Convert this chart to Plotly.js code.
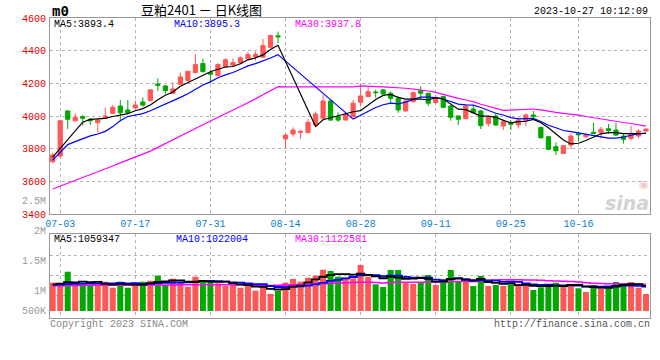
<!DOCTYPE html>
<html><head><meta charset="utf-8">
<script src="https://cdn.plot.ly/plotly-3.0.1.min.js"></script>
<style>html,body{margin:0;padding:0;background:#fff}</style>
</head><body>
<div id="chart" style="width:660px;height:360px"></div>
<script>
const dates = ['2023-06-30',
 '2023-07-03','2023-07-04','2023-07-05','2023-07-06','2023-07-07','2023-07-10','2023-07-11','2023-07-12','2023-07-13','2023-07-14',
 '2023-07-17','2023-07-18','2023-07-19','2023-07-20','2023-07-21','2023-07-24','2023-07-25','2023-07-26','2023-07-27','2023-07-28','2023-07-31',
 '2023-08-01','2023-08-02','2023-08-03','2023-08-04','2023-08-07','2023-08-08','2023-08-09','2023-08-10','2023-08-11',
 '2023-08-14','2023-08-15','2023-08-16','2023-08-17','2023-08-18','2023-08-21','2023-08-22','2023-08-23','2023-08-24','2023-08-25',
 '2023-08-28','2023-08-29','2023-08-30','2023-08-31','2023-09-01','2023-09-04','2023-09-05','2023-09-06','2023-09-07','2023-09-08',
 '2023-09-11','2023-09-12','2023-09-13','2023-09-14','2023-09-15','2023-09-18','2023-09-19','2023-09-20','2023-09-21','2023-09-22',
 '2023-09-25','2023-09-26','2023-09-27','2023-09-28','2023-10-09','2023-10-10','2023-10-11','2023-10-12','2023-10-13',
 '2023-10-16','2023-10-17','2023-10-18','2023-10-19','2023-10-20','2023-10-23','2023-10-24','2023-10-25','2023-10-26','2023-10-27'];

const open = [3720,3755,4031,3971,3996,3980,3959,3988,4016,4061,
 4037,4049,4086,4094,4196,4184,4139,4194,4217,4266,
 4321,4266,4247,4299,4311,4325,4350,4364,4360,4421,
 4491,3859,3890,3900,3898,3945,3986,4092,3996,3975,
 3996,4084,4119,4147,4160,4139,4108,4031,4088,4155,
 4139,4082,4119,4061,4000,3984,4043,4031,3953,4000,
 3939,3959,3945,3971,4006,3930,3873,3812,3771,3822,
 3892,3873,3900,3898,3922,3914,3877,3863,3877,3908];
const high = [3775,3975,4035,4016,4006,3988,3980,4049,4067,4098,
 4098,4094,4115,4160,4231,4190,4207,4266,4274,4380,
 4350,4282,4323,4354,4352,4364,4391,4395,4472,4497,
 4517,3890,3930,3914,3982,4027,4129,4098,4022,4016,
 4098,4200,4180,4160,4166,4151,4119,4098,4153,4180,
 4143,4129,4125,4067,4006,4074,4061,4037,4000,4016,
 3980,3975,3992,4016,4031,3935,3877,3838,3822,3894,
 3904,3894,3959,3935,3951,3959,3890,3941,3920,3924];
const low = [3710,3744,3920,3965,3941,3945,3898,3984,4012,3971,
 4012,4045,4057,4088,4153,4135,4135,4190,4211,4260,
 4266,4200,4245,4294,4299,4319,4344,4339,4354,4415,
 4446,3802,3873,3859,3898,3935,3980,3971,3965,3975,
 3992,4057,4112,4112,4133,4078,4020,4027,4082,4108,
 4061,4074,4047,3971,3945,3980,4016,3920,3935,3939,
 3914,3914,3924,3939,3980,3859,3791,3761,3767,3798,
 3843,3867,3890,3863,3890,3877,3832,3849,3863,3904];
const close = [3761,3971,3980,3992,3986,3971,3975,4000,4053,4020,
 4020,4067,4067,4160,4188,4155,4166,4239,4274,4315,
 4272,4256,4315,4344,4327,4356,4376,4378,4431,4493,
 4485,3883,3914,3906,3961,4012,4092,3975,3975,4012,
 4078,4123,4149,4143,4135,4108,4037,4092,4143,4139,
 4078,4108,4053,3992,3980,4061,4020,3941,3992,3945,
 3965,3949,3975,4006,3998,3867,3796,3787,3818,3877,
 3885,3885,3892,3918,3910,3883,3857,3894,3908,3920];

const ma5 = [3748,3803,3857,3910,3962,3979,3981,3985,3997,4004,
 4014,4032,4045,4067,4100,4127,4147,4182,4204,4230,
 4253,4271,4286,4300,4303,4320,4344,4356,4374,4407,
 4433,null,null,null,null,3935,3977,3989,4003,4013,
 4026,4033,4067,4101,4126,4132,4114,4103,4103,4104,
 4098,4112,4104,4074,4042,4039,4021,3999,3999,3992,
 3973,3958,3965,3968,3979,3959,3928,3891,3853,3829,
 3833,3850,3871,3891,3898,3898,3892,3892,3890,3893];
const ma10 = [3730,3780,3825,3843,3862,3878,3890,3906,3935,3971,
 3997,4006,4015,4032,4052,4071,4090,4114,4136,4165,
 4190,4209,4234,4252,4266,4286,4307,4321,4337,4355,
 4376,null,null,null,null,null,null,null,null,null,
 3981,4005,4028,4052,4069,4079,4074,4085,4102,4115,
 4115,4113,4104,4089,4073,4068,4067,4052,4036,4017,
 4006,3990,3982,3983,3985,3966,3943,3928,3911,3904,
 3896,3889,3881,3872,3864,3865,3871,3882,3891,3895];
const ma30 = [3553,3570,3587,3605,3622,3640,3658,3676,3694,3713,
 3730,3748,3766,3785,3808,3832,3855,3877,3900,3923,
 3946,3970,3993,4015,4037,4058,4080,4105,4130,4155,
 4180,4178,4178,4178,4178,4178,4178,4178,4178,4178,
 4178,4184,4184,4180,4178,4176,4174,4170,4165,4160,
 4153,4145,4132,4118,4108,4098,4088,4072,4058,4045,
 4034,4036,4038,4041,4043,4038,4028,4022,4016,4012,
 4005,3997,3989,3981,3974,3966,3960,3954,3946,3938];

const volume = [1189000,1092000,1651000,1122000,1122000,1050000,1164000,1231000,979000,1231000,
 979000,1122000,1231000,1273000,1483000,1092000,1357000,1231000,1021000,1441000,
 1261000,1231000,1164000,1063000,1122000,979000,1092000,853000,1021000,714000,
 840000,1189000,1345000,1231000,1399000,1483000,1735000,1681000,1441000,1399000,
 1374000,1933000,1441000,1122000,1008000,1723000,1723000,1206000,1134000,1206000,
 1513000,1092000,1206000,1723000,1261000,1261000,1050000,1471000,1050000,1092000,
 1050000,1122000,1122000,1122000,882000,996000,1134000,1189000,1050000,1134000,
 954000,798000,1092000,954000,1050000,1218000,1176000,1218000,979000,714000];
const volMa5 = [1120000,1150000,1210000,1200000,1235000,1207000,1222000,1138000,1109000,1131000,
 1117000,1108000,1108000,1167000,1218000,1240000,1287000,1287000,1237000,1228000,
 1262000,1237000,1224000,1232000,1168000,1112000,1084000,1022000,1013000,932000,
 904000,923000,1022000,1064000,1201000,1329000,1439000,1506000,1548000,1548000,
 1526000,1566000,1518000,1454000,1376000,1445000,1403000,1356000,1359000,1398000,
 1356000,1230000,1230000,1348000,1359000,1309000,1300000,1353000,1219000,1185000,
 1143000,1157000,1087000,1102000,1060000,1049000,1051000,1065000,1050000,1101000,
 1092000,1025000,1006000,986000,970000,1022000,1098000,1123000,1128000,1059347];
const volMa10 = [1100000,1110000,1130000,1140000,1150000,1150000,1160000,1160000,1160000,1183000,
 1162000,1165000,1123000,1138000,1174000,1179000,1198000,1198000,1202000,1223000,
 1251000,1262000,1255000,1234000,1198000,1187000,1161000,1123000,1123000,1050000,
 1008000,1004000,1022000,1039000,1066000,1117000,1181000,1264000,1306000,1374000,
 1428000,1502000,1512000,1501000,1462000,1486000,1485000,1437000,1406000,1387000,
 1401000,1317000,1293000,1353000,1379000,1333000,1265000,1292000,1283000,1272000,
 1226000,1229000,1220000,1160000,1122000,1096000,1104000,1076000,1076000,1080000,
 1071000,1038000,1035000,1018000,1035000,1057000,1062000,1064000,1057000,1022004];
const volMa30 = [1060000,1060000,1070000,1070000,1070000,1080000,1080000,1080000,1080000,1080000,
 1080000,1090000,1090000,1090000,1090000,1090000,1090000,1100000,1100000,1100000,
 1100000,1100000,1100000,1100000,1100000,1100000,1090000,1080000,1080000,1070000,
 1080000,1090000,1100000,1110000,1120000,1130000,1150000,1170000,1180000,1190000,
 1200000,1210000,1210000,1200000,1180000,1200000,1210000,1210000,1210000,1210000,
 1220000,1220000,1230000,1240000,1240000,1240000,1240000,1250000,1280000,1300000,
 1310000,1310000,1310000,1300000,1300000,1290000,1270000,1260000,1250000,1240000,
 1220000,1190000,1170000,1160000,1150000,1140000,1130000,1130000,1120000,1122501];

const tickDates = ['2023-07-03','2023-07-17','2023-07-31','2023-08-14','2023-08-28','2023-09-11','2023-09-25','2023-10-16'];
const tickLabels = ['07-03','07-17','07-31','08-14','08-28','09-11','09-25','10-16'];
const priceTicks = [3400,3600,3800,4000,4200,4400,4600];
const volLabelVals = [666667,1000000,1500000,2000000,2500000];
const volLabelText = ['500K','1M','1.5M','2M','2.5M'];
const volGridVals = [643000,1483000,2324000];

const RED = '#ff5656', GREEN = '#00a800';
const MONO = 'Liberation Mono, DejaVu Sans Mono, monospace';
const GRID = '#b4b4b4', BORDER = '#999999';

const volColors = close.map((c, i) => c >= open[i] ? RED : GREEN);

const traces = [
  {type:'candlestick', x:dates, open:open, high:high, low:low, close:close, xaxis:'x', yaxis:'y',
   increasing:{line:{color:RED,width:1}, fillcolor:RED},
   decreasing:{line:{color:GREEN,width:1}, fillcolor:GREEN},
   whiskerwidth:0, hoverinfo:'skip', showlegend:false},
  {type:'scatter', mode:'lines', x:dates, y:ma30, xaxis:'x', yaxis:'y', line:{color:'#ff00ff',width:1.2}, showlegend:false, hoverinfo:'skip'},
  {type:'scatter', mode:'lines', x:dates, y:ma10, xaxis:'x', yaxis:'y', connectgaps:true, line:{color:'#0000ff',width:1.2}, showlegend:false, hoverinfo:'skip'},
  {type:'scatter', mode:'lines', x:dates, y:ma5, xaxis:'x', yaxis:'y', connectgaps:true, line:{color:'#000000',width:1.2}, showlegend:false, hoverinfo:'skip'},
  {type:'bar', x:dates, y:volume, xaxis:'x2', yaxis:'y2', marker:{color:volColors, line:{width:0}}, showlegend:false, hoverinfo:'skip'},
  {type:'scatter', mode:'lines', x:dates, y:volMa30, xaxis:'x2', yaxis:'y2', line:{color:'#ff00ff',width:1.5,shape:'hvh'}, showlegend:false, hoverinfo:'skip'},
  {type:'scatter', mode:'lines', x:dates, y:volMa10, xaxis:'x2', yaxis:'y2', line:{color:'#0000ff',width:1.8,shape:'hvh'}, showlegend:false, hoverinfo:'skip'},
  {type:'scatter', mode:'lines', x:dates, y:volMa5, xaxis:'x2', yaxis:'y2', line:{color:'#000000',width:1.8,shape:'hvh'}, showlegend:false, hoverinfo:'skip'},
  {type:'scatter', mode:'lines', x:[], y:[], xaxis:'x3', yaxis:'y3', showlegend:false, hoverinfo:'skip'}
];

const xr = [-0.36, 79.53];
const layout = {
  width:660, height:360,
  margin:{l:50, r:10, t:18, b:42},
  paper_bgcolor:'#ffffff', plot_bgcolor:'rgba(0,0,0,0)',
  showlegend:false, hovermode:false,
  boxgap:0.2, bargap:0.2,
  xaxis:{type:'category', domain:[0,1], anchor:'y', range:xr, rangeslider:{visible:false},
    tickmode:'array', tickvals:tickDates, ticktext:tickLabels, ticks:'',
    tickfont:{family:MONO, size:10, color:'#0a7fd2'},
    showgrid:true, gridcolor:GRID, griddash:'dot', gridwidth:1,
    showline:true, mirror:true, linecolor:BORDER, linewidth:1, zeroline:false, fixedrange:true},
  yaxis:{domain:[0.34667,1], anchor:'x', range:[3400,4600], tickmode:'array', tickvals:priceTicks,
    ticks:'', ticklabelstandoff:1, tickfont:{family:MONO, size:10, color:'#e00000'},
    showgrid:true, gridcolor:GRID, griddash:'dot', gridwidth:1,
    showline:true, mirror:true, linecolor:BORDER, linewidth:1, zeroline:false},
  xaxis2:{type:'category', matches:'x', domain:[0,1], anchor:'y2', range:xr,
    tickmode:'array', tickvals:tickDates, showticklabels:false, ticks:'',
    showgrid:true, gridcolor:GRID, griddash:'dot', gridwidth:1,
    showline:true, mirror:true, linecolor:BORDER, linewidth:1, zeroline:false},
  yaxis2:{domain:[0,0.28], anchor:'x2', range:[-294000,3235000], tickmode:'array', tickvals:volGridVals,
    showticklabels:false, ticks:'', showgrid:true, gridcolor:GRID, griddash:'dot', gridwidth:1,
    showline:true, mirror:true, linecolor:BORDER, linewidth:1, zeroline:false},
  xaxis3:{type:'category', matches:'x', domain:[0,1], anchor:'y3', range:xr, visible:false, showgrid:false},
  yaxis3:{domain:[0,0.41], anchor:'x3', range:[550000,2600000], tickmode:'array', tickvals:volLabelVals,
    ticktext:volLabelText, ticks:'', ticklabelshift:-1, ticklabelstandoff:3,
    tickfont:{family:MONO, size:10, color:'#9a9a9a'},
    showgrid:false, showline:false, zeroline:false},
  annotations:[
    {xref:'paper', yref:'paper', x:0.0, y:1.024, xanchor:'left', yanchor:'middle', showarrow:false,
     text:'<b>m0</b>', font:{family:'DejaVu Sans Mono', size:14, color:'#000'}},
    {xref:'paper', yref:'paper', x:0.2533, y:1.028, xanchor:'center', yanchor:'middle', showarrow:false,
     text:'豆粕2401 － 日K线图', font:{family:'Noto Sans CJK SC', size:13, color:'#000'}},
    {xref:'paper', yref:'paper', x:1.0, y:1.02, xanchor:'right', yanchor:'middle', showarrow:false,
     text:'2023-10-27 10:12:09', font:{family:MONO, size:10, color:'#000'}},
    {xref:'paper', yref:'paper', x:0.004, y:0.98, xanchor:'left', yanchor:'middle', showarrow:false,
     text:'MA5:3893.4', font:{family:MONO, size:10, color:'#000'}},
    {xref:'paper', yref:'paper', x:0.204, y:0.98, xanchor:'left', yanchor:'middle', showarrow:false,
     text:'MA10:3895.3', font:{family:MONO, size:10, color:'#0000ff'}},
    {xref:'paper', yref:'paper', x:0.405, y:0.98, xanchor:'left', yanchor:'middle', showarrow:false,
     text:'MA30:3937.8', font:{family:MONO, size:10, color:'#ff00ff'}},
    {xref:'paper', yref:'paper', x:0.004, y:0.2633, xanchor:'left', yanchor:'middle', showarrow:false,
     text:'MA5:1059347', font:{family:MONO, size:10, color:'#000'}},
    {xref:'paper', yref:'paper', x:0.206, y:0.2633, xanchor:'left', yanchor:'middle', showarrow:false,
     text:'MA10:1022004', font:{family:MONO, size:10, color:'#0000ff'}},
    {xref:'paper', yref:'paper', x:0.405, y:0.2633, xanchor:'left', yanchor:'middle', showarrow:false,
     text:'MA30:1122501', font:{family:MONO, size:10, color:'#ff00ff'}},
    {xref:'paper', yref:'paper', x:-0.004, y:-0.02, xanchor:'left', yanchor:'middle', showarrow:false,
     text:'Copyright 2023 SINA.COM', font:{family:MONO, size:10, color:'#888888'}},
    {xref:'paper', yref:'paper', x:1.003, y:-0.02, xanchor:'right', yanchor:'middle', showarrow:false,
     text:'http://finance.sina.com.cn', font:{family:MONO, size:10, color:'#555555'}},
    {xref:'paper', yref:'paper', x:0.962, y:0.383, xanchor:'center', yanchor:'middle', showarrow:false,
     text:'<b><i>sina</i></b>', font:{family:'DejaVu Sans', size:19, color:'#d2d2d2'}},
    {xref:'paper', yref:'paper', x:0.99, y:0.445, xanchor:'center', yanchor:'middle', showarrow:false,
     text:'◉', font:{family:'DejaVu Sans', size:11, color:'#f0c8c8'}}
  ]
};

Plotly.newPlot('chart', traces, layout, {staticPlot:true, displayModeBar:false});
</script>
</body></html>
